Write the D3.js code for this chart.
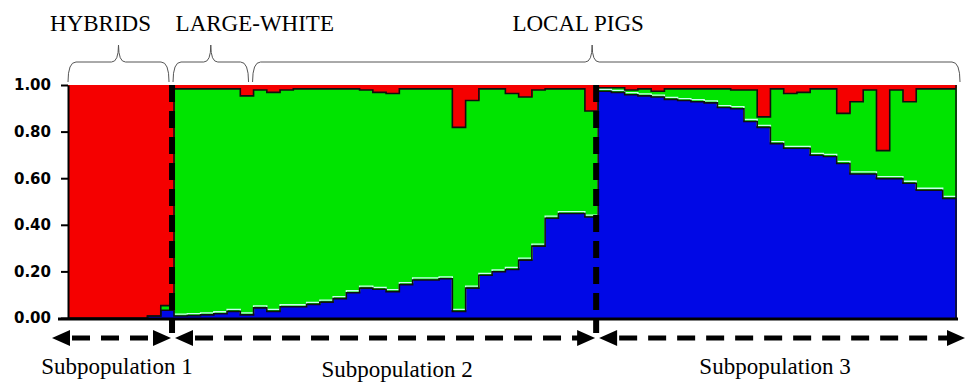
<!DOCTYPE html>
<html>
<head>
<title>Population structure</title>
<script src="https://cdnjs.cloudflare.com/ajax/libs/d3/7.8.5/d3.min.js"></script>
<style>
  body { margin: 0; background: #fff; }
  svg { display: block; }
</style>
</head>
<body>
<script type="text/javascript">
// membership coefficients per pig, left to right (K = 3)
var blueQ = [0, 0, 0, 0, 0, 0, 0.01, 0.035,
  0.01, 0.012, 0.015, 0.02, 0.03, 0.015, 0.045, 0.03, 0.05, 0.05, 0.06, 0.07, 0.085, 0.11, 0.13, 0.125,
  0.115, 0.145, 0.165, 0.165, 0.17, 0.03, 0.13, 0.185, 0.20, 0.21, 0.25, 0.31, 0.43, 0.45, 0.45, 0.435,
  0.975, 0.97, 0.96, 0.955, 0.95, 0.94, 0.935, 0.93, 0.925, 0.905, 0.90, 0.845, 0.82, 0.75,
  0.73, 0.73, 0.70, 0.695, 0.665, 0.62, 0.62, 0.60, 0.60, 0.58, 0.55, 0.55, 0.515];
var greenQ = [0, 0, 0, 0, 0, 0, 0, 0.02,
  0.975, 0.973, 0.97, 0.965, 0.955, 0.94, 0.935, 0.94, 0.93, 0.935, 0.925, 0.915, 0.90, 0.875, 0.85, 0.845,
  0.85, 0.84, 0.82, 0.82, 0.815, 0.79, 0.805, 0.80, 0.785, 0.755, 0.70, 0.67, 0.555, 0.535, 0.535, 0.455,
  0.015, 0.02, 0.02, 0.03, 0.025, 0.045, 0.05, 0.055, 0.06, 0.08, 0.08, 0.135, 0.045, 0.235,
  0.235, 0.24, 0.285, 0.29, 0.215, 0.31, 0.36, 0.12, 0.38, 0.35, 0.435, 0.435, 0.47];
var redQ = [1, 1, 1, 1, 1, 1, 0.99, 0.945,
  0.015, 0.015, 0.015, 0.015, 0.015, 0.045, 0.02, 0.03, 0.02, 0.015, 0.015, 0.015, 0.015, 0.015, 0.02, 0.03,
  0.035, 0.015, 0.015, 0.015, 0.015, 0.18, 0.065, 0.015, 0.015, 0.035, 0.05, 0.02, 0.015, 0.015, 0.015, 0.11,
  0.01, 0.01, 0.02, 0.015, 0.025, 0.015, 0.015, 0.015, 0.015, 0.015, 0.02, 0.02, 0.135, 0.015,
  0.035, 0.03, 0.015, 0.015, 0.12, 0.07, 0.02, 0.28, 0.02, 0.07, 0.015, 0.015, 0.015];

// breeds (braces on top) and inferred subpopulations (arrows below)
var breedNames = ["HYBRIDS", "LARGE-WHITE", "LOCAL PIGS"];
var breedSizes = [8, 6, 53];
var subNames = ["Subpopulation 1", "Subpopulation 2", "Subpopulation 3"];
var subSizes = [8, 32, 27];
var yTicks = [0, 0.2, 0.4, 0.6, 0.8, 1.0];

var W = 966, H = 383;
var plotL = 68, plotR = 956, plotT = 85, plotB = 318;
var colors = { blue: "#0008e6", green: "#00e400", red: "#f50000" };

var svg = d3.select("body").append("svg")
  .attr("width", W)
  .attr("height", H);

var n = blueQ.length;
var rows = blueQ.map(function(b, i) {
  return { id: i, blue: b, green: greenQ[i], red: redQ[i] };
});

var x = d3.scaleBand().domain(d3.range(n)).range([plotL, plotR]).padding(0);
var y = d3.scaleLinear().domain([0, 1]).range([plotB, plotT]);
var bw = x.bandwidth();

var stacked = d3.stack().keys(["blue", "green", "red"])(rows);

// bars
svg.append("g").selectAll("g")
  .data(stacked)
  .enter().append("g")
    .attr("fill", function(s) { return colors[s.key]; })
  .selectAll("rect")
  .data(function(s) { return s; })
  .enter().append("rect")
    .attr("x", function(d, i) { return x(i); })
    .attr("width", bw + 0.7)
    .attr("y", function(d) { return y(d[1]); })
    .attr("height", function(d) { return y(d[0]) - y(d[1]); })
    .attr("shape-rendering", "crispEdges");

// cluster boundaries drawn as step outlines
function stepPoints(layer, dy) {
  var pts = [];
  layer.forEach(function(d, i) {
    pts.push([x(i), y(d[1]) + dy]);
    pts.push([x(i) + bw, y(d[1]) + dy]);
  });
  return pts;
}
var line = d3.line();
svg.append("path")
  .attr("d", line(stepPoints(stacked[0], -1.6).slice(16)))
  .attr("fill", "none").attr("stroke", "#c8fff0").attr("stroke-width", 1.3);
[0, 1].forEach(function(k) {
  svg.append("path")
    .attr("d", line(stepPoints(stacked[k], 0.4)))
    .attr("fill", "none").attr("stroke", "#101010").attr("stroke-width", 1.6);
});

// frame
svg.append("line")
  .attr("x1", plotR).attr("x2", plotR).attr("y1", plotT).attr("y2", plotB)
  .attr("stroke", "#111").attr("stroke-width", 1.5);
svg.append("line")
  .attr("x1", 58).attr("x2", plotR + 2).attr("y1", plotB + 1).attr("y2", plotB + 1)
  .attr("stroke", "#000").attr("stroke-width", 3);

// y axis
var yAxis = d3.axisLeft(y)
  .tickValues(yTicks)
  .tickFormat(d3.format(".2f"))
  .tickSize(7)
  .tickSizeOuter(0)
  .tickPadding(10);
var ax = svg.append("g")
  .attr("transform", "translate(" + plotL + ",0)")
  .call(yAxis);
ax.select(".domain").attr("stroke", "#000").attr("stroke-width", 2);
ax.selectAll(".tick line").attr("stroke", "#000").attr("stroke-width", 2);
ax.selectAll(".tick text")
  .attr("fill", "#000")
  .style("font", "bold 15px 'DejaVu Sans'");

// dashed separators between subpopulations
var starts = [0];
subSizes.forEach(function(s, i) { starts.push(starts[i] + s); });
starts.slice(1, -1).forEach(function(s) {
  svg.append("line")
    .attr("x1", x(s) - 2).attr("x2", x(s) - 2)
    .attr("y1", plotT).attr("y2", 333)
    .attr("stroke", "#000").attr("stroke-width", 6)
    .attr("stroke-dasharray", "17,9");
});

// double arrows under the plot
var arrowY = 338;
function head(tipX, dir) {
  var l = 18, h = 8;
  return "M" + tipX + "," + arrowY +
    "L" + (tipX - dir * l) + "," + (arrowY - h) +
    "L" + (tipX - dir * l) + "," + (arrowY + h) + "Z";
}
subSizes.forEach(function(s, i) {
  var a = starts[i] === 0 ? 52 : x(starts[i]) + 1;
  var b = starts[i + 1] === n ? 965 : x(starts[i + 1]) - 3;
  svg.append("line")
    .attr("x1", a + 20).attr("x2", b - 16)
    .attr("y1", arrowY).attr("y2", arrowY)
    .attr("stroke", "#000").attr("stroke-width", 5)
    .attr("stroke-dasharray", "18,11");
  svg.append("path").attr("d", head(a, -1)).attr("fill", "#000");
  svg.append("path").attr("d", head(b, 1)).attr("fill", "#000");
});

// subpopulation labels
var subShift = [-4, 11, -2];
var subBase = [374, 377, 374];
subNames.forEach(function(name, i) {
  svg.append("text")
    .attr("x", (x(starts[i]) + (starts[i + 1] === n ? plotR : x(starts[i + 1]))) / 2 + subShift[i])
    .attr("y", subBase[i])
    .attr("text-anchor", "middle")
    .style("font", "23px 'Liberation Serif'")
    .text(name);
});

// braces and breed names on top
var bStarts = [0];
breedSizes.forEach(function(s, i) { bStarts.push(bStarts[i] + s); });
var braceY = 62, braceEnd = 82, bracePeak = 45;
var peakFrac = [0.5, 0.5, 0.48];
var nameShift = [-18, 44, -14];
function brace(x0, x1, xm) {
  return "M" + x0 + "," + braceEnd +
    "Q" + x0 + "," + braceY + " " + (x0 + 8) + "," + braceY +
    "L" + (xm - 7) + "," + braceY +
    "Q" + xm + "," + braceY + " " + xm + "," + bracePeak +
    "Q" + xm + "," + braceY + " " + (xm + 7) + "," + braceY +
    "L" + (x1 - 8) + "," + braceY +
    "Q" + x1 + "," + braceY + " " + x1 + "," + braceEnd;
}
breedNames.forEach(function(name, i) {
  var x0 = bStarts[i] === 0 ? plotL : x(bStarts[i]) - 1;
  var x1 = bStarts[i + 1] === n ? 960 : x(bStarts[i + 1]) - 5;
  var xm = x0 + (x1 - x0) * peakFrac[i];
  svg.append("path")
    .attr("d", brace(x0, x1, xm))
    .attr("fill", "none").attr("stroke", "#555").attr("stroke-width", 1);
  svg.append("text")
    .attr("x", xm + nameShift[i])
    .attr("y", 31)
    .attr("text-anchor", "middle")
    .style("font", "23px 'Liberation Serif'")
    .text(name);
});
</script>
</body>
</html>
